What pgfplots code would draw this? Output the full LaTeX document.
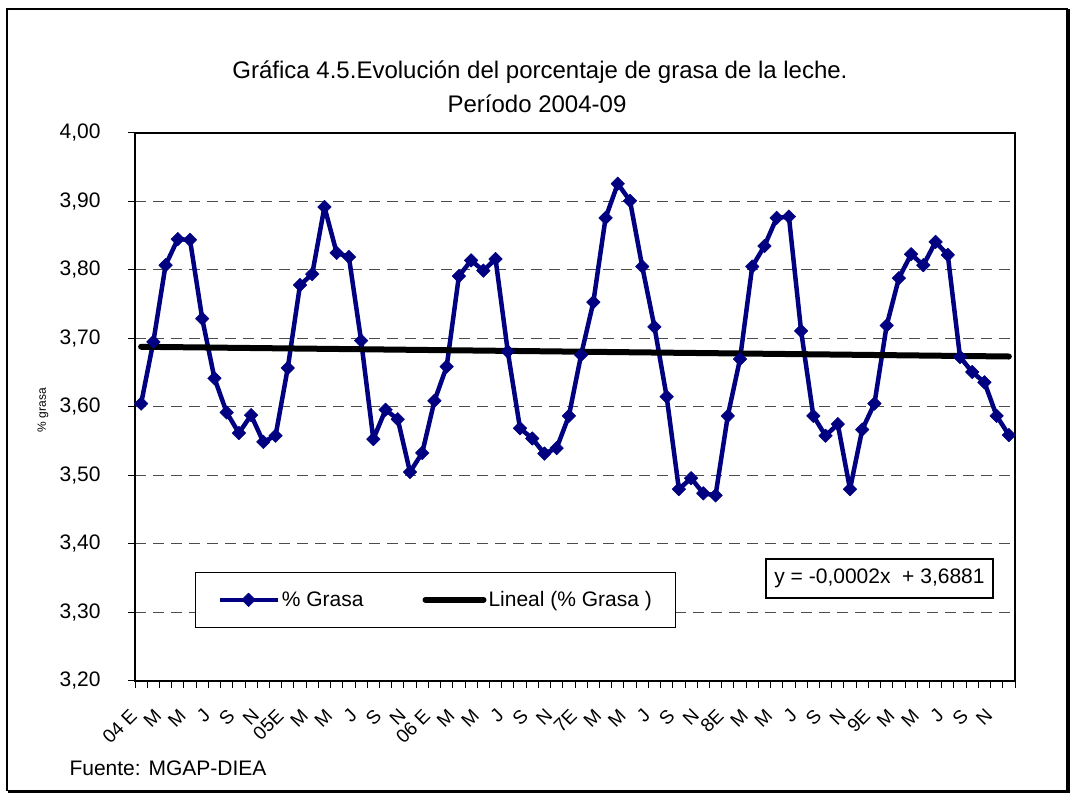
\documentclass[border=0pt]{standalone}
\usepackage{fontspec}
\setmainfont{Liberation Sans}
\usepackage{pgfplots}
\pgfplotsset{compat=1.18}
\definecolor{navyblue}{RGB}{0,0,128}
\begin{document}
\begin{tikzpicture}[x=1pt,y=1pt]
\path[use as bounding box] (0,0) rectangle (1071,794);
\draw[line width=1.5pt] (7,3.5) rectangle (1067,785);
\draw[line width=3pt] (1068,785) -- (1068,2.5) -- (8,2.5);
\node[font=\fontsize{24}{29}\selectfont] at (540,722) {Gráfica 4.5.Evolución del porcentaje de grasa de la leche.};
\node[font=\fontsize{24}{29}\selectfont] at (537,690) {Período 2004-09};
\begin{axis}[
  at={(135pt,113pt)}, anchor=south west, scale only axis,
  width=880pt, height=548pt,
  xmin=-0.5, xmax=71.5, ymin=3.2, ymax=4.0,
  axis line style={line width=1.5pt},
  tick pos=left, tick align=outside, major tick length=7pt,
  tick style={black, line width=1pt},
  ytick={3.2,3.3,3.4,3.5,3.6,3.7,3.8,3.9,4.0},
  ymajorgrids,
  major grid style={dash pattern=on 11pt off 7pt, line width=1pt, black!70},
  yticklabel style={font=\fontsize{21}{25}\selectfont, xshift=-24pt, /pgf/number format/.cd, fixed, fixed zerofill, precision=2, use comma, assume math mode=true},
  xtick={-0.5,0.5,...,71.5},
  xticklabels={04 E,,M,,M,,J,,S,,N,,05E,,M,,M,,J,,S,,N,,06 E,,M,,M,,J,,S,,N,,7E,,M,,M,,J,,S,,N,,8E,,M,,M,,J,,S,,N,,9E,,M,,M,,J,,S,,N,,},
  xticklabel style={font=\fontsize{19}{22}\selectfont, xshift=1pt, yshift=-22pt, rotate=45, anchor=east},
  ylabel={\% grasa},
  ylabel style={font=\fontsize{12}{14}\selectfont, at={(axis description cs:-0.1045,0.4945)}, anchor=center},
  legend columns=2,
  legend cell align=left,
  legend style={at={(axis description cs:0.068,0.199)}, anchor=north west, draw=black, line width=1pt, fill=white,
    font=\fontsize{21}{25}\selectfont, inner xsep=22pt, inner ysep=17pt,
    /tikz/every even column/.append style={column sep=57pt}},
  legend image code/.code={\draw[mark repeat=2,mark phase=2,#1] plot coordinates {(0pt,0pt) (29pt,0pt) (58pt,0pt)};},
]
\addplot[navyblue, line width=4.5pt, line join=round, mark=square*, mark size=4.8pt, mark options={rotate=45, line width=0.5pt, solid}] coordinates {
(0,3.605) (1,3.695) (2,3.807) (3,3.845) (4,3.844) (5,3.729) (6,3.642) (7,3.592) (8,3.562) (9,3.588) (10,3.549) (11,3.558)
(12,3.657) (13,3.778) (14,3.794) (15,3.892) (16,3.825) (17,3.819) (18,3.697) (19,3.553) (20,3.596) (21,3.582) (22,3.505) (23,3.533)
(24,3.609) (25,3.659) (26,3.791) (27,3.814) (28,3.799) (29,3.816) (30,3.681) (31,3.569) (32,3.554) (33,3.532) (34,3.540) (35,3.587)
(36,3.676) (37,3.753) (38,3.876) (39,3.926) (40,3.901) (41,3.805) (42,3.717) (43,3.615) (44,3.480) (45,3.496) (46,3.474) (47,3.471)
(48,3.587) (49,3.670) (50,3.805) (51,3.835) (52,3.876) (53,3.878) (54,3.711) (55,3.587) (56,3.558) (57,3.575) (58,3.480) (59,3.567)
(60,3.605) (61,3.719) (62,3.788) (63,3.823) (64,3.807) (65,3.841) (66,3.822) (67,3.673) (68,3.651) (69,3.636) (70,3.587) (71,3.559)
};
\addlegendentry{\% Grasa}
\addplot[black, line width=6pt, line cap=round] coordinates {(0,3.6879) (71,3.6737)};
\addlegendentry{Lineal (\% Grasa )}
\end{axis}
\node[draw, line width=1.5pt, fill=white, font=\fontsize{21}{25}\selectfont, minimum width=227pt, minimum height=39pt, inner sep=0pt] at (879.5,215.5) {y = -0,0002x \ + 3,6881};
\node[anchor=west, font=\fontsize{21}{25}\selectfont] at (66,26) {Fuente: MGAP-DIEA};
\end{tikzpicture}
\end{document}
